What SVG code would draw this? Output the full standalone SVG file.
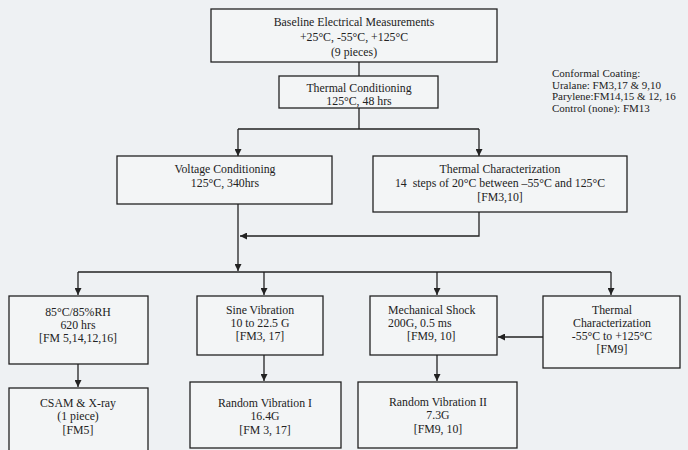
<svg xmlns="http://www.w3.org/2000/svg" width="688" height="450" viewBox="0 0 688 450">
<defs>
<marker id="ah" viewBox="0 0 10 10" refX="10" refY="5" markerWidth="7" markerHeight="7" markerUnits="userSpaceOnUse" orient="auto">
<path d="M0,0 L10,5 L0,10 z" fill="#222"/>
</marker>
<style>
.box{fill:#f3f5f6;stroke:#222;stroke-width:1.3}
.t{font-family:"Liberation Serif","Times New Roman",serif;font-size:11.8px;fill:#222;text-anchor:middle}
.ts{font-family:"Liberation Serif","Times New Roman",serif;font-size:11.8px;fill:#222}
.n{font-family:"Liberation Serif","Times New Roman",serif;font-size:11px;fill:#222}
.c{fill:none;stroke:#222;stroke-width:1.3}
.a{fill:none;stroke:#222;stroke-width:1.3;marker-end:url(#ah)}
</style>
</defs>
<rect width="688" height="450" fill="#eef1f3"/>
<g id="connectors">
<path class="c" d="M359,62 V76"/>
<path class="c" d="M359,108 V129 M238,129 H479"/>
<path class="a" d="M238,129 V156"/>
<path class="a" d="M479,129 V156"/>
<path class="a" d="M479,212 V236 H240"/>
<path class="a" d="M238,204 V271"/>
<path class="c" d="M78,272 H611"/>
<path class="a" d="M78,272 V295"/>
<path class="a" d="M264,272 V295"/>
<path class="a" d="M437,272 V295"/>
<path class="a" d="M611,272 V295"/>
<path class="a" d="M543,337 H498"/>
<path class="a" d="M78,364 V387"/>
<path class="a" d="M264,355 V381"/>
<path class="a" d="M437,355 V381"/>
</g>
<g id="baseline">
<rect class="box" x="211" y="9" width="286" height="53"/>
<text class="t" x="354" y="26">Baseline Electrical Measurements</text>
<text class="t" x="354" y="41">+25°C, -55°C, +125°C</text>
<text class="t" x="354" y="56">(9 pieces)</text>
</g>
<g id="thermal-conditioning">
<rect class="box" x="279" y="76" width="159" height="32"/>
<text class="t" x="359" y="91.5">Thermal Conditioning</text>
<text class="t" x="359" y="104.5">125°C, 48 hrs</text>
</g>
<g id="coating-note">
<text class="n" x="552" y="77">Conformal Coating:</text>
<text class="n" x="552" y="88.5">Uralane: FM3,17 &amp; 9,10</text>
<text class="n" x="552" y="100">Parylene:FM14,15 &amp; 12, 16</text>
<text class="n" x="552" y="111.5">Control (none): FM13</text>
</g>
<g id="voltage-conditioning">
<rect class="box" x="117" y="156" width="215" height="48"/>
<text class="t" x="225" y="173">Voltage Conditioning</text>
<text class="t" x="225" y="187">125°C, 340hrs</text>
</g>
<g id="thermal-characterization-1">
<rect class="box" x="373" y="156" width="254" height="56"/>
<text class="t" x="500" y="173">Thermal Characterization</text>
<text class="t" x="500" y="187" xml:space="preserve">14  steps of 20°C between –55°C and 125°C</text>
<text class="t" x="500" y="201">[FM3,10]</text>
</g>
<g id="humidity">
<rect class="box" x="9" y="296" width="139" height="68"/>
<text class="t" x="78" y="316">85°C/85%RH</text>
<text class="t" x="78" y="329">620 hrs</text>
<text class="t" x="78" y="342">[FM 5,14,12,16]</text>
</g>
<g id="sine-vibration">
<rect class="box" x="197" y="296" width="126" height="59"/>
<text class="t" x="260" y="314">Sine Vibration</text>
<text class="t" x="260" y="327">10 to 22.5 G</text>
<text class="t" x="260" y="340">[FM3, 17]</text>
</g>
<g id="mechanical-shock">
<rect class="box" x="370" y="296" width="127" height="59"/>
<text class="ts" x="388" y="314">Mechanical Shock</text>
<text class="ts" x="388" y="327">200G, 0.5 ms</text>
<text class="ts" x="407" y="340">[FM9, 10]</text>
</g>
<g id="thermal-characterization-2">
<rect class="box" x="543" y="296" width="137" height="72"/>
<text class="t" x="612" y="314">Thermal</text>
<text class="t" x="612" y="327">Characterization</text>
<text class="t" x="612" y="340">-55°C to +125°C</text>
<text class="t" x="612" y="353">[FM9]</text>
</g>
<g id="csam">
<rect class="box" x="9" y="388" width="139" height="66"/>
<text class="t" x="78" y="407">CSAM &amp; X-ray</text>
<text class="t" x="78" y="420">(1 piece)</text>
<text class="t" x="78" y="434">[FM5]</text>
</g>
<g id="random-vibration-1">
<rect class="box" x="190" y="382" width="151" height="66"/>
<text class="t" x="265" y="407">Random Vibration I</text>
<text class="t" x="265" y="420">16.4G</text>
<text class="t" x="265" y="434">[FM 3, 17]</text>
</g>
<g id="random-vibration-2">
<rect class="box" x="358" y="382" width="159" height="66"/>
<text class="t" x="438" y="406">Random Vibration II</text>
<text class="t" x="438" y="419">7.3G</text>
<text class="t" x="438" y="433">[FM9, 10]</text>
</g>
</svg>
